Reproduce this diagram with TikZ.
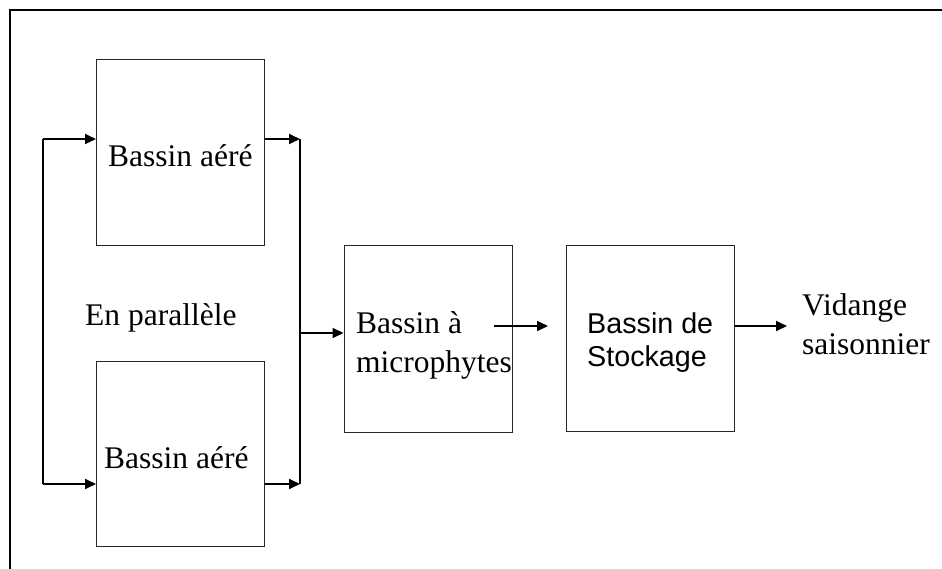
\documentclass[tikz,border=0pt]{standalone}
\usepackage{fontspec}
\setmainfont{Liberation Serif}
\newfontfamily\arialfont{Liberation Sans}
\usetikzlibrary{arrows.meta}
\begin{document}
\begin{tikzpicture}[x=1pt,y=-1pt,
  bassin/.style={draw=black!85, line width=1pt, minimum width=168pt, inner sep=0pt},
  lbl/.style={inner sep=0pt, anchor=base west, align=left, font=\fontsize{31.5}{38.5}\selectfont},
  lblsans/.style={inner sep=0pt, anchor=base west, align=left, font=\arialfont\fontsize{28.7}{33}\selectfont},
  conn/.style={line width=1.8pt},
  arr/.style={line width=1.8pt, -{Triangle[length=11pt,width=10pt]}}]
\useasboundingbox (0,0) rectangle (942,568);
\clip (0,0) rectangle (942,568);
% outer frame (only top and left edges visible)
\draw[line width=1.2pt] (10,600) -- (10,10) -- (960,10);
% boxes
\node[bassin, minimum height=186pt] (b1) at (180.5,152) {};
\node[bassin, minimum height=185pt] (b2) at (180.5,453.5) {};
\node[bassin, minimum height=187pt] (mic) at (428,338.5) {};
\node[bassin, minimum height=186pt] (sto) at (650,338) {};
% texts (base anchor = baseline of last line)
\node[lbl] (t1) at (108,166) {Bassin aéré};
\node[lbl] (t2) at (104,468) {Bassin aéré};
\node[lbl] (par) at (85,325) {En parallèle};
\node[lbl] (tmic) at (356,372) {Bassin à\\microphytes};
\node[lblsans] (tsto) at (587,366) {Bassin de\\Stockage};
\node[lbl] (vid) at (802,354) {Vidange\\saisonnier};
% coordinates
\coordinate (L1) at (43,139);
\coordinate (L2) at (43,484);
\coordinate (R1) at (300,139);
\coordinate (R2) at (300,484);
\coordinate (Rm) at (300,333);
\coordinate (m1) at (494,326);
\coordinate (m2) at (548,326);
\coordinate (v1) at (787,326);
% connectors
\draw[conn] (L1) -- (L2);
\draw[arr] (L1) -- (L1 -| b1.west);
\draw[arr] (L2) -- (L2 -| b2.west);
\draw[arr] (b1.east |- R1) -- (R1);
\draw[arr] (b2.east |- R2) -- (R2);
\draw[conn] (R1) -- (R2);
\draw[arr] (Rm) -- (Rm -| mic.west);
\draw[arr] (m1) -- (m2);
\draw[arr] (sto.east |- v1) -- (v1);
\end{tikzpicture}
\end{document}
